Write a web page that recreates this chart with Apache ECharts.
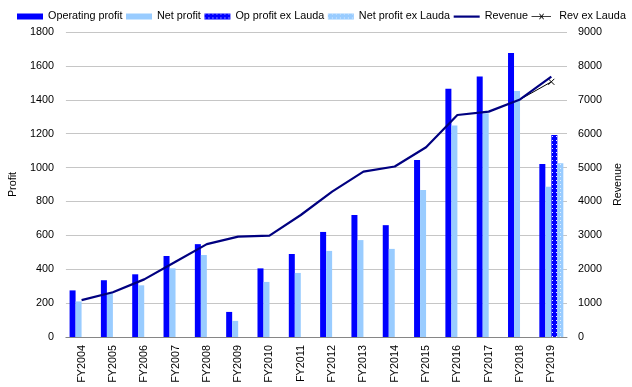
<!DOCTYPE html>
<html>
<head>
<meta charset="utf-8">
<script src="https://cdn.jsdelivr.net/npm/echarts@6/dist/echarts.min.js"></script>
<style>
html,body{margin:0;padding:0;background:#fff;}
#chart{width:632px;height:387px;}
</style>
</head>
<body>
<div id="chart"></div>
<script>
var categories = ['FY2004','FY2005','FY2006','FY2007','FY2008','FY2009','FY2010','FY2011','FY2012','FY2013','FY2014','FY2015','FY2016','FY2017','FY2018','FY2019'];
var operatingProfit = [275, 335, 370, 478, 548, 148, 405, 490, 620, 720, 660, 1045, 1465, 1537, 1676, 1021];
var netProfit = [210, 260, 305, 405, 484, 95, 325, 378, 508, 572, 520, 868, 1248, 1320, 1452, 887];
var opProfitExLauda = [null, null, null, null, null, null, null, null, null, null, null, null, null, null, null, 1192];
var netProfitExLauda = [null, null, null, null, null, null, null, null, null, null, null, null, null, null, null, 1025];
var revenue = [1090, 1320, 1700, 2220, 2740, 2960, 2990, 3600, 4290, 4880, 5030, 5600, 6550, 6650, 7010, 7680];
var revExLauda = [null, null, null, null, null, null, null, null, null, null, null, null, null, null, 7010, 7530];
var profitTicks = [0, 1800, 200];
var revenueTicks = [0, 9000, 1000];

var FONT = '"Liberation Sans", Arial, sans-serif';
var chart = echarts.init(document.getElementById('chart'), null, {renderer: 'canvas'});

var xMark = 'path://M0,0L10,10M10,0L0,10';
var lineIcon = 'path://M0,0M0,2L26,2L26,4.2L0,4.2ZM26,6';
var lineXIcon = 'path://M0,0M0,3.5L26,3.5L26,4.5L0,4.5ZM10.2,0.8L11,0L16.6,7.2L15.8,8ZM15.8,0L16.6,0.8L11,8L10.2,7.2ZM26,8';

var revExData = revExLauda.map(function (v, i) {
  if (v === null) return null;
  return i < revExLauda.length - 1 ? {value: v, symbol: 'none'} : v;
});

chart.setOption({
  animation: false,
  textStyle: {fontFamily: FONT},
  legend: {
    left: 12, top: 6, width: 620,
    itemWidth: 26, itemHeight: 6, itemGap: 3.6,
    textStyle: {fontSize: 10.8, color: '#000', fontFamily: FONT},
    data: [
      {name: 'Operating profit', icon: 'rect'},
      {name: 'Net profit', icon: 'rect'},
      {name: 'Op profit ex Lauda', icon: 'rect'},
      {name: 'Net profit ex Lauda', icon: 'rect'},
      {name: 'Revenue', icon: lineIcon, itemStyle: {color: '#000080', borderWidth: 0}},
      {name: 'Rev ex Lauda', icon: lineXIcon, itemStyle: {color: '#000', borderWidth: 0}}
    ]
  },
  grid: {left: 65, right: 65, top: 32, bottom: 50, containLabel: false},
  xAxis: {
    type: 'category',
    data: categories,
    boundaryGap: true,
    axisLine: {lineStyle: {color: '#868686', width: 1}},
    axisTick: {alignWithLabel: false, length: 5, lineStyle: {color: '#868686'}},
    axisLabel: {rotate: 90, margin: 8, fontSize: 10.8, color: '#000', fontFamily: FONT, interval: 0}
  },
  yAxis: [
    {
      type: 'value', min: profitTicks[0], max: profitTicks[1], interval: profitTicks[2],
      name: 'Profit', nameLocation: 'middle', nameGap: 46,
      nameTextStyle: {fontSize: 10.8, color: '#000', fontFamily: FONT},
      axisLine: {show: false}, axisTick: {show: false},
      axisLabel: {margin: 12, fontSize: 10.8, color: '#000', fontFamily: FONT, formatter: function (v) { return String(v); }},
      splitLine: {lineStyle: {color: '#c6c6c6', width: 1}}
    },
    {
      type: 'value', min: revenueTicks[0], max: revenueTicks[1], interval: revenueTicks[2],
      name: 'Revenue', nameLocation: 'middle', nameGap: 46,
      nameTextStyle: {fontSize: 10.8, color: '#000', fontFamily: FONT},
      axisLine: {show: false}, axisTick: {show: false},
      axisLabel: {margin: 11, fontSize: 10.8, color: '#000', fontFamily: FONT, formatter: function (v) { return String(v); }},
      splitLine: {show: false}
    }
  ],
  series: [
    {name: 'Operating profit', type: 'bar', yAxisIndex: 0, data: operatingProfit,
     barWidth: 6, barGap: '0%', itemStyle: {color: '#0000FF'}},
    {name: 'Net profit', type: 'bar', yAxisIndex: 0, data: netProfit,
     barWidth: 6, barGap: '0%', itemStyle: {color: '#99CCFF'}},
    {name: 'Op profit ex Lauda', type: 'bar', yAxisIndex: 0, data: opProfitExLauda,
     barWidth: 6, barGap: '0%',
     itemStyle: {color: '#0000FF', decal: {symbol: 'rect', symbolSize: 1, dashArrayX: [1, 3], dashArrayY: [1, 3], color: 'rgba(255,255,255,0.95)'}}},
    {name: 'Net profit ex Lauda', type: 'bar', yAxisIndex: 0, data: netProfitExLauda,
     barWidth: 6, barGap: '0%',
     itemStyle: {color: '#99CCFF', decal: {symbol: 'rect', symbolSize: 1, dashArrayX: [1, 3], dashArrayY: [1, 3], color: 'rgba(230,240,255,0.95)'}}},
    {name: 'Revenue', type: 'line', yAxisIndex: 1, data: revenue,
     symbol: 'none', lineStyle: {color: '#000080', width: 2.2}, itemStyle: {color: '#000080'}, z: 4},
    {name: 'Rev ex Lauda', type: 'line', yAxisIndex: 1, data: revExData,
     symbol: xMark, symbolSize: 6, showSymbol: true,
     lineStyle: {color: '#000000', width: 1},
     itemStyle: {color: '#000', borderColor: '#000', borderWidth: 1}, z: 3}
  ]
});
</script>
</body>
</html>
